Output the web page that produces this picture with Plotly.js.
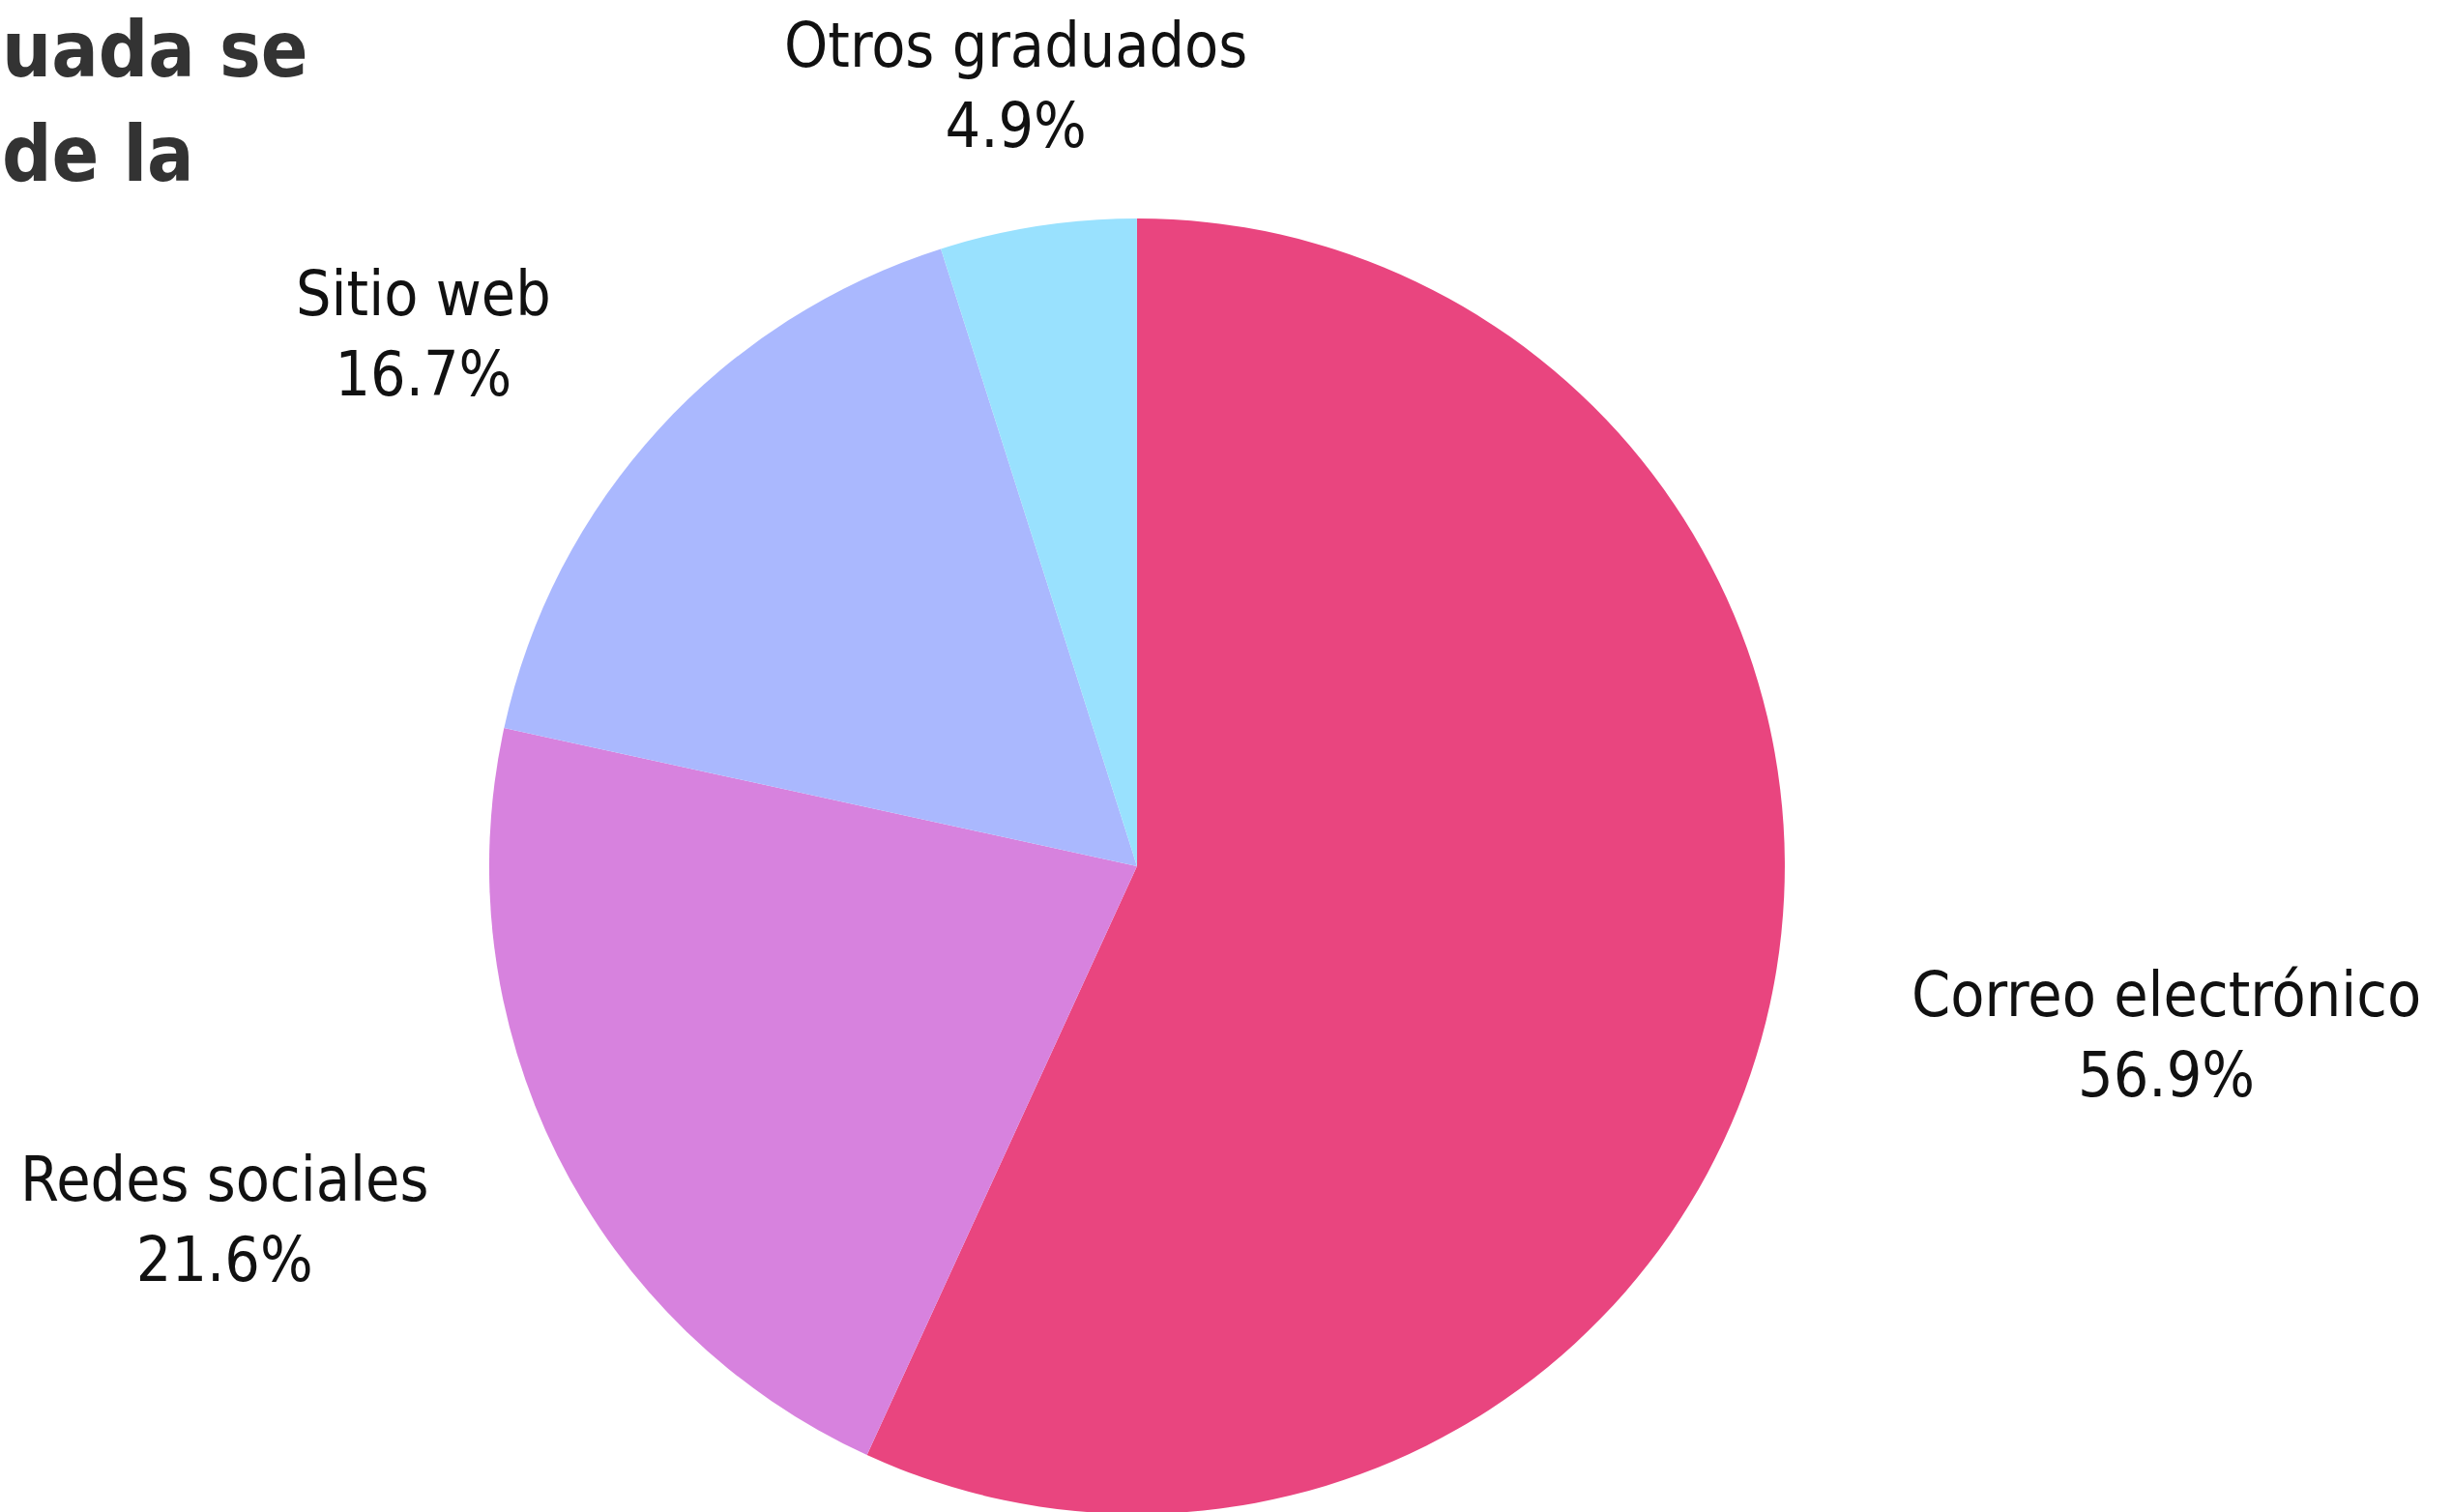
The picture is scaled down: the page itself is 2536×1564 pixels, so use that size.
<!DOCTYPE html>
<html><head><meta charset="utf-8">
<script src="https://cdn.plot.ly/plotly-3.0.1.min.js"></script>
<style>html,body{margin:0;padding:0;overflow:hidden;background:#fff;width:2536px;height:1564px}#chart{width:2536px;height:1600px}</style>
</head><body><div id="chart"></div>
<script>
const categories = ["Correo electrónico", "Redes sociales", "Sitio web", "Otros graduados"];
const values = [56.9, 21.6, 16.7, 4.9];
const colors = ["#E9457F", "#D782DE", "#AAB8FE", "#99E1FE"];
const titleLines = ["uada se", "de la"];

const W = 2536, H = 1600;
const dom = {x: [0.1995, 0.7279], y: [0.02125, 0.85875]};
const cx = (dom.x[0] + dom.x[1]) / 2 * W;
const cy = (1 - (dom.y[0] + dom.y[1]) / 2) * H;
const r = Math.min((dom.x[1] - dom.x[0]) * W, (dom.y[1] - dom.y[0]) * H) / 2;
const total = values.reduce((a, b) => a + b, 0);
const fam = "'Liberation Sans Narrow', 'DejaVu Sans Condensed', 'Open Sans', sans-serif";
const labelFont = {family: fam, size: 64, color: "#111"};

let cum = 0;
const annotations = categories.map((c, i) => {
  const mid = (cum + values[i] / 2) / total * 2 * Math.PI;
  cum += values[i];
  const s = Math.sin(mid), co = Math.cos(mid);
  const R = r * 1.22;
  const px = cx + s * R, py = cy - co * R;
  const xanchor = Math.abs(s) < 0.3 ? 'center' : (s > 0 ? 'left' : 'right');
  return {x: px / W, y: 1 - py / H, xref: 'paper', yref: 'paper', xanchor: xanchor, yanchor: 'middle',
    showarrow: false, align: 'center', text: c + '<br>' + values[i].toFixed(1) + '%', font: labelFont};
});
titleLines.forEach((t, i) => {
  annotations.push({x: 0, y: 1 - (52 + i * 108) / H, xref: 'paper', yref: 'paper', xanchor: 'left', yanchor: 'middle',
    showarrow: false, align: 'left', text: t,
    font: {family: fam, size: 80, color: "#333333", weight: 700}});
});

const data = [{
  type: 'pie', labels: categories, values: values, sort: false, direction: 'clockwise', rotation: 0,
  marker: {colors: colors, line: {width: 0}}, textinfo: 'none', hoverinfo: 'label+percent',
  domain: dom, showlegend: false
}];
const layout = {width: W, height: H, margin: {l: 0, r: 0, t: 0, b: 0, pad: 0}, paper_bgcolor: '#fff',
  showlegend: false, annotations: annotations};
Plotly.newPlot('chart', data, layout, {displayModeBar: false, staticPlot: true});
</script></body></html>
